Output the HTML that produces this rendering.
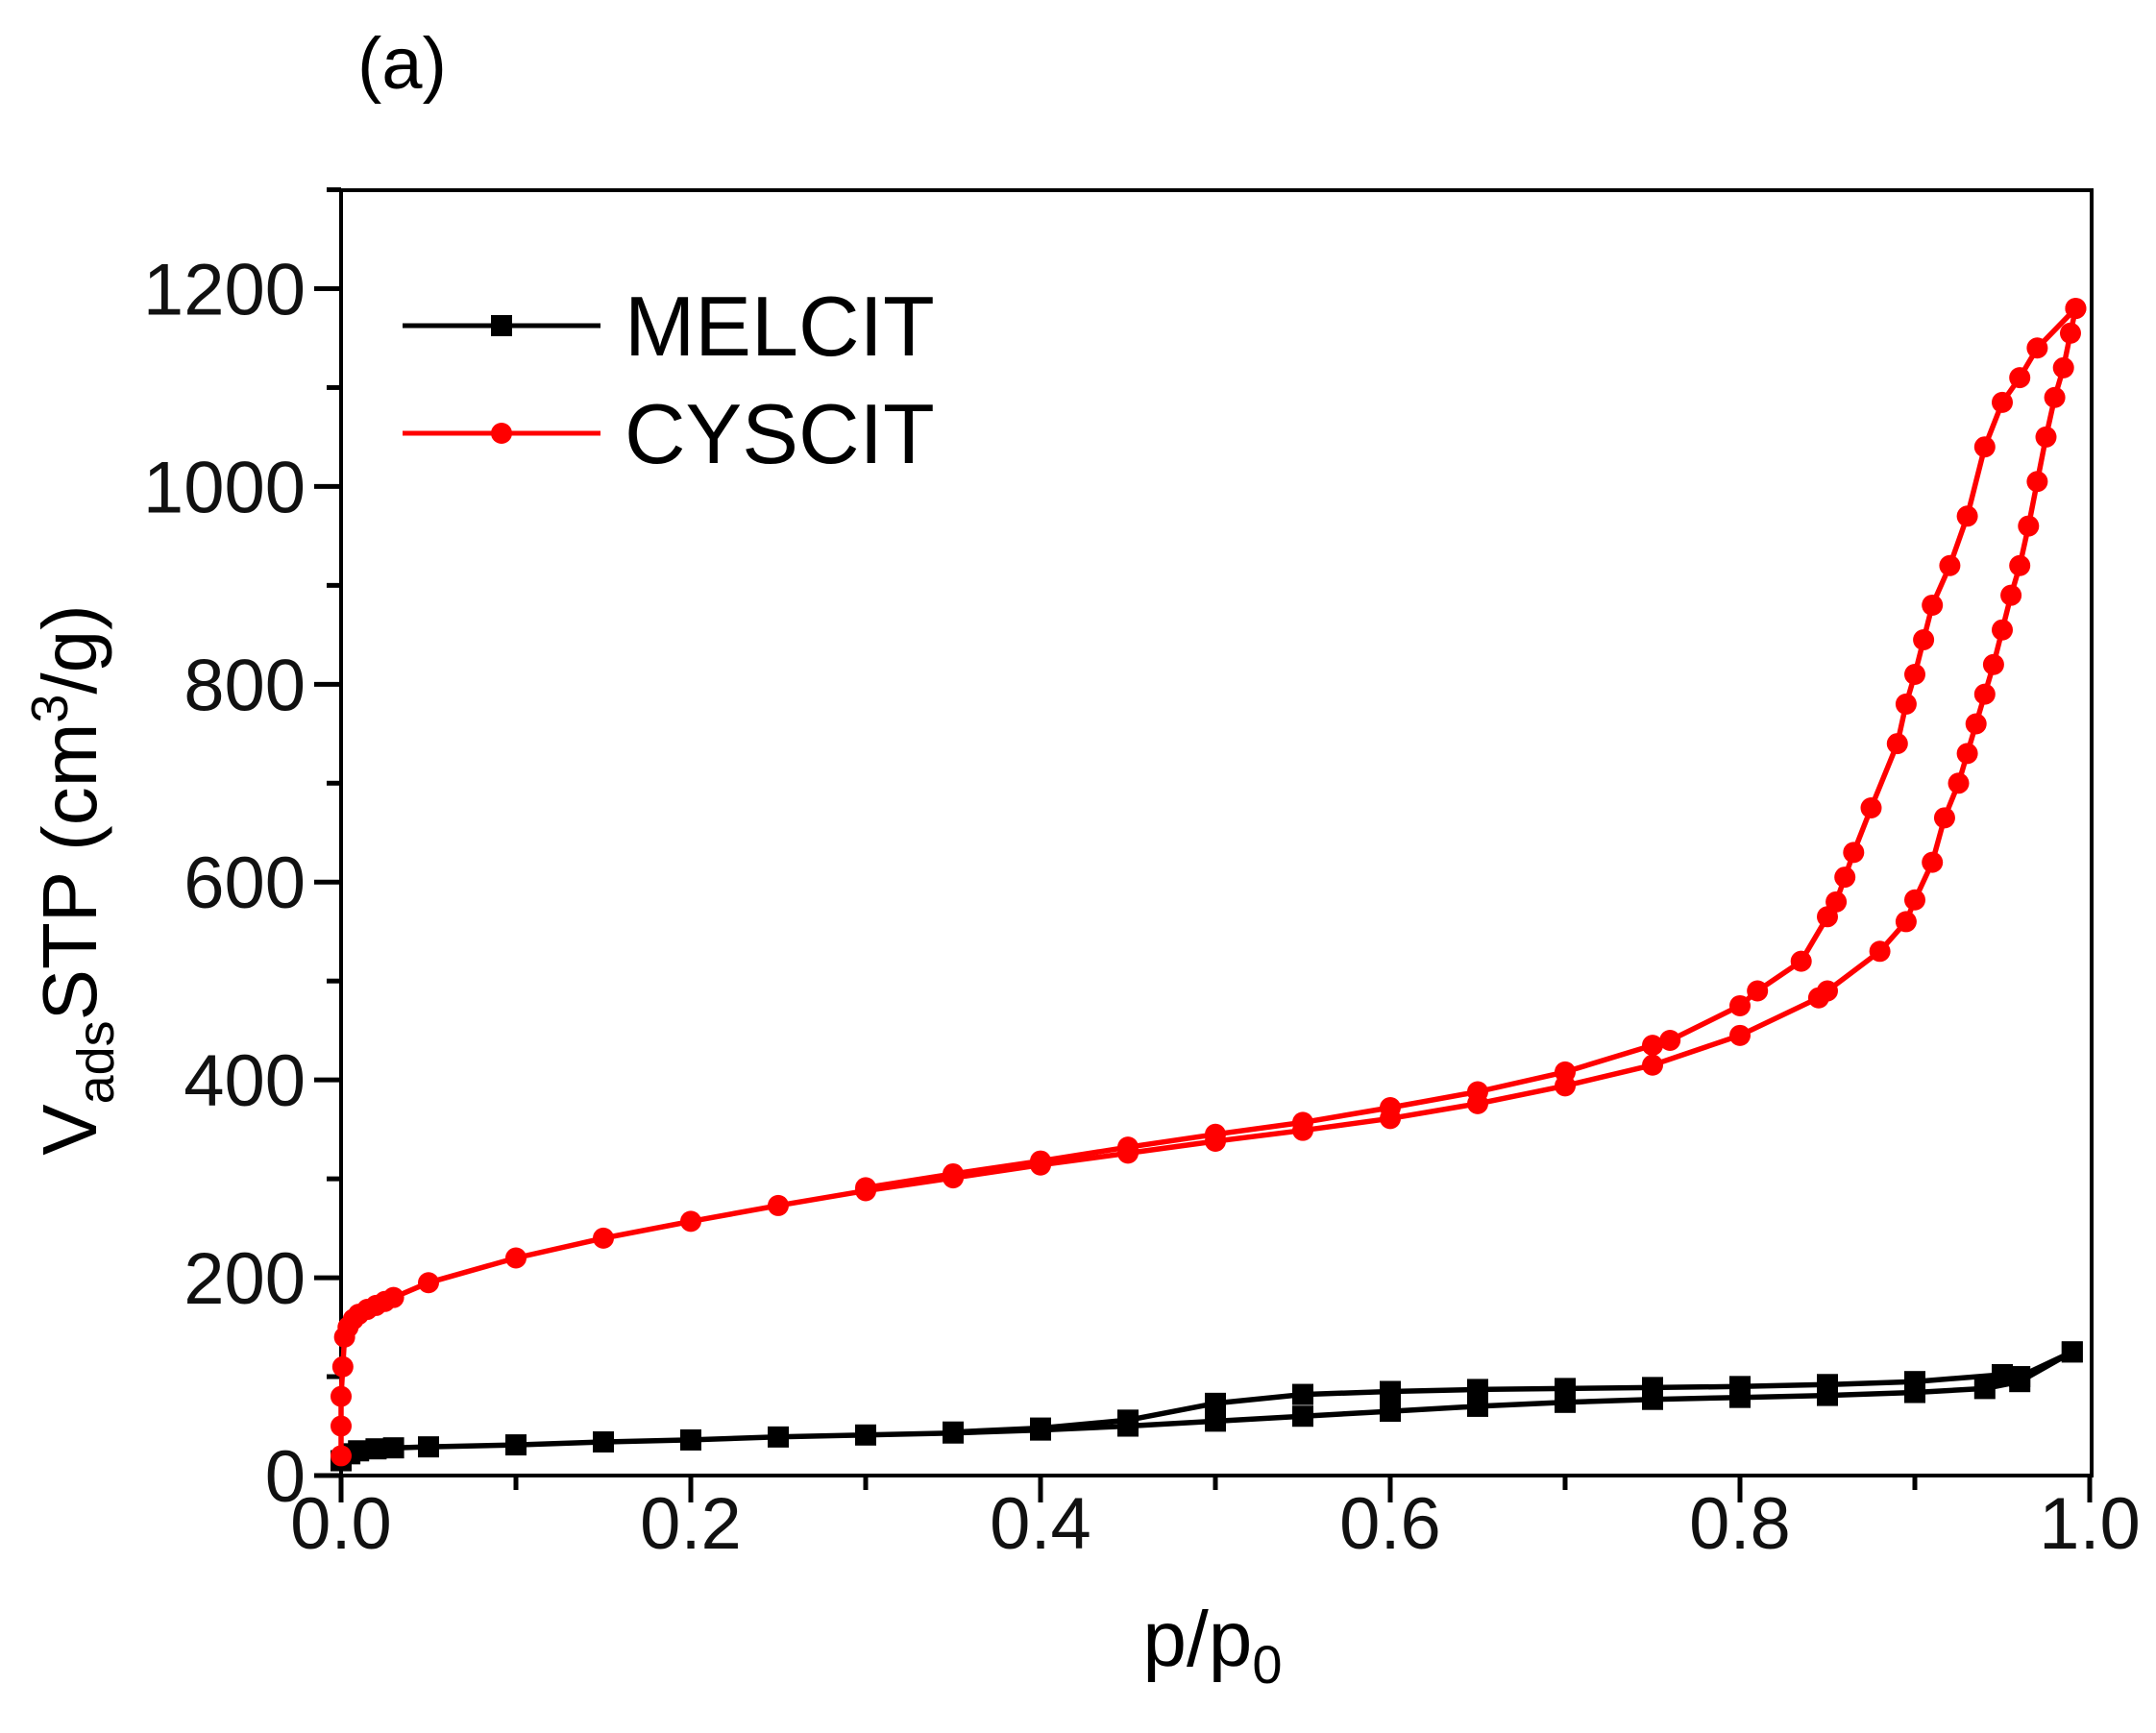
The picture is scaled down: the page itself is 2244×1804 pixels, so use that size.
<!DOCTYPE html>
<html><head><meta charset="utf-8"><style>body{margin:0;background:#fff}svg{display:block}text{font-family:"Liberation Sans",Arial,sans-serif}</style></head>
<body>
<svg id="s" width="2244" height="1804" xmlns="http://www.w3.org/2000/svg">
<text x="372" y="92" font-size="76">(a)</text>
<rect x="355" y="198" width="1822" height="1338" fill="none" stroke="#000" stroke-width="4"/>
<g id="ax" stroke="#000" stroke-width="5"></g>
<g id="lab" font-size="76" fill="#111"></g>
<text x="1262" y="1734" font-size="82" text-anchor="middle">p/p<tspan font-size="56" dy="18">0</tspan></text>
<text transform="translate(100,916) rotate(-90)" font-size="80" text-anchor="middle">V<tspan font-size="54" dy="18">ads</tspan><tspan dy="-18">STP (cm</tspan><tspan font-size="54" dy="-30">3</tspan><tspan dy="30">/g)</tspan></text>
<g id="data"></g>
<line x1="419" y1="339" x2="625" y2="339" stroke="#000" stroke-width="5"/>
<rect x="511" y="328" width="22" height="22" fill="#000"/>
<text x="650" y="370" font-size="88">MELCIT</text>
<line x1="419" y1="451" x2="625" y2="451" stroke="#f00" stroke-width="5"/>
<circle cx="522" cy="451" r="11" fill="#f00"/>
<text x="650" y="482" font-size="88">CYSCIT</text>
</svg>
<script>
var X=p=>355+p*1820, Y=v=>1536-v*1.0296;
var ax=document.getElementById('ax'),lab=document.getElementById('lab'),h='',l='';
for(var i=0;i<=10;i++){var x=X(i/10),maj=i%2==0;h+=`<line x1="${x}" y1="1536" x2="${x}" y2="${1536+(maj?28:15)}"/>`;if(maj)l+=`<text x="${x}" y="1612" text-anchor="middle">${(i/10).toFixed(1)}</text>`;}
for(var v=0;v<=1300;v+=100){var y=Y(v),maj=v%200==0;h+=`<line x1="355" y1="${y}" x2="${355-(maj?28:15)}" y2="${y}"/>`;if(maj&&v<=1200)l+=`<text x="318" y="${y+27}" text-anchor="end">${v}</text>`;}
ax.innerHTML=h;lab.innerHTML=l;
var cyA=[[0,20],[0,50],[0,80],[0.001,110],[0.002,140],[0.004,150],[0.007,158],[0.01,163],[0.015,168],[0.02,172],[0.025,176],[0.03,180],[0.05,195],[0.1,220],[0.15,240],[0.2,257],[0.25,273],[0.3,288],[0.35,301],[0.4,314],[0.45,326],[0.5,338],[0.55,349],[0.6,361],[0.65,376],[0.7,394],[0.75,415],[0.8,445],[0.845,483],[0.85,490],[0.88,530],[0.895,560],[0.9,582],[0.91,620],[0.917,665],[0.925,700],[0.93,730],[0.935,760],[0.94,790],[0.945,820],[0.95,855],[0.955,890],[0.96,920],[0.965,960],[0.97,1005],[0.975,1050],[0.98,1090],[0.985,1120],[0.989,1155],[0.992,1180]];
var cyD=[[0.992,1180],[0.97,1140],[0.96,1110],[0.95,1085],[0.94,1040],[0.93,970],[0.92,920],[0.91,880],[0.905,845],[0.9,810],[0.895,780],[0.89,740],[0.875,675],[0.865,630],[0.86,605],[0.855,580],[0.85,565],[0.835,520],[0.81,490],[0.8,475],[0.76,440],[0.75,435],[0.7,408],[0.65,388],[0.6,372],[0.55,357],[0.5,345],[0.45,332],[0.4,318],[0.35,305],[0.3,291]];
var meA=[[0,15],[0.005,22],[0.01,25],[0.02,27],[0.03,28],[0.05,29],[0.1,31],[0.15,34],[0.2,36],[0.25,39],[0.3,41],[0.35,43],[0.4,46],[0.45,50],[0.5,55],[0.55,60],[0.6,65],[0.65,70],[0.7,74],[0.75,77],[0.8,79],[0.85,81],[0.9,84],[0.94,88],[0.96,95],[0.99,125]];
var meD=[[0.99,125],[0.96,100],[0.95,102],[0.9,95],[0.85,92],[0.8,90],[0.75,89],[0.7,88],[0.65,87],[0.6,85],[0.55,82],[0.5,73],[0.45,56],[0.4,48],[0.35,44]];
var d='';
function ser(pts,c,sq){var s=pts.map((p,i)=>(i?'L':'M')+X(p[0]).toFixed(1)+','+Y(p[1]).toFixed(1)).join('');d+=`<path d="${s}" fill="none" stroke="${c}" stroke-width="5.5" stroke-linejoin="round"/>`;pts.forEach(p=>{var x=X(p[0]),y=Y(p[1]);d+=sq?`<rect x="${x-11}" y="${y-11}" width="22" height="22" fill="${c}"/>`:`<circle cx="${x}" cy="${y}" r="11" fill="${c}"/>`;});}
ser(meA,'#000',1);ser(meD,'#000',1);ser(cyA,'#f00',0);ser(cyD,'#f00',0);
document.getElementById('data').innerHTML=d;
</script>
</body></html>
